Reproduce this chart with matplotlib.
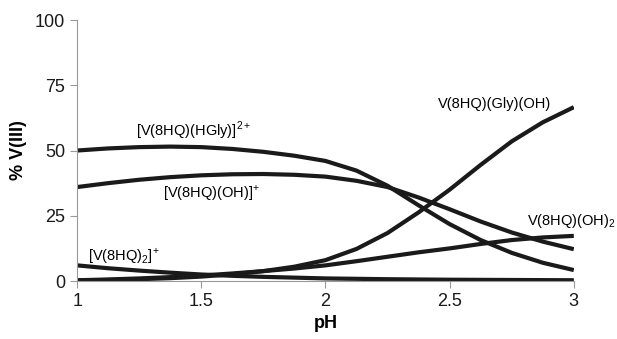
import matplotlib.pyplot as plt

ph = [1, 1.125, 1.25, 1.375, 1.5, 1.625, 1.75, 1.875, 2, 2.125, 2.25, 2.375, 2.5, 2.625, 2.75, 2.875, 3]

hgly = [50, 50.8, 51.3, 51.5, 51.3, 50.6, 49.5, 48, 46, 42.3, 36.5, 29, 21.8, 15.7, 10.8, 7, 4.2]
oh = [36, 37.5, 38.8, 39.8, 40.5, 40.9, 41, 40.7, 40, 38.4, 36, 32, 27.5, 22.8, 18.6, 15.1, 12.2]
gly_oh = [0.2, 0.4, 0.7, 1.1, 1.7, 2.6, 3.8, 5.5, 8, 12.3, 18.4, 26.3, 35, 44.5, 53.5, 60.8, 66.6]
oh2 = [0.3, 0.6, 1, 1.5, 2.1, 2.9, 3.8, 4.8, 6, 7.6, 9.3, 11, 12.5, 14.2, 15.7, 16.7, 17.3]
hq2 = [6, 4.9, 4, 3.2, 2.5, 2, 1.6, 1.3, 1, 0.85, 0.7, 0.6, 0.5, 0.45, 0.4, 0.35, 0.3]

labels = ['[V(8HQ)(HGly)]$^{2+}$', '[V(8HQ)(OH)]$^{+}$', '[V(8HQ)$_{2}$]$^{+}$',
          'V(8HQ)(Gly)(OH)', 'V(8HQ)(OH)$_{2}$']

plt.rcParams['font.family'] = ['Liberation Sans', 'DejaVu Sans']
plt.rcParams['mathtext.fontset'] = 'custom'
plt.rcParams['mathtext.rm'] = 'Liberation Sans'

fig = plt.figure(figsize=(6.17, 3.39), dpi=100)
ax = fig.add_axes([0.125, 0.171, 0.805, 0.770])

for s in [hgly, oh, gly_oh, oh2, hq2]:
    ax.plot(ph, s, color='#1a1a1a', linewidth=3, solid_joinstyle='round', solid_capstyle='butt')

ax.text(1.47, 57.5, labels[0], ha='center', va='center', fontsize=10.5)
ax.text(1.54, 33.5, labels[1], ha='center', va='center', fontsize=10.5)
ax.text(1.19, 9.5, labels[2], ha='center', va='center', fontsize=10.5)
ax.text(2.68, 68, labels[3], ha='center', va='center', fontsize=10.5)
ax.text(2.99, 23, labels[4], ha='center', va='center', fontsize=10.5)

ax.set_xlim(1, 3)
ax.set_ylim(0, 100)
ax.set_xticks([1, 1.5, 2, 2.5, 3])
ax.set_xticklabels(['1', '1.5', '2', '2.5', '3'])
ax.set_yticks([0, 25, 50, 75, 100])
ax.set_xlabel('pH', fontsize=13, fontweight='bold', labelpad=4)
ax.set_ylabel('% V(III)', fontsize=13, fontweight='bold', labelpad=6)

for side in ['top', 'right']:
    ax.spines[side].set_visible(False)
for side in ['left', 'bottom']:
    ax.spines[side].set_color('#999999')
ax.tick_params(colors='#999999', labelcolor='#1a1a1a', labelsize=13, length=5)

fig.savefig('out.png', dpi=100)
